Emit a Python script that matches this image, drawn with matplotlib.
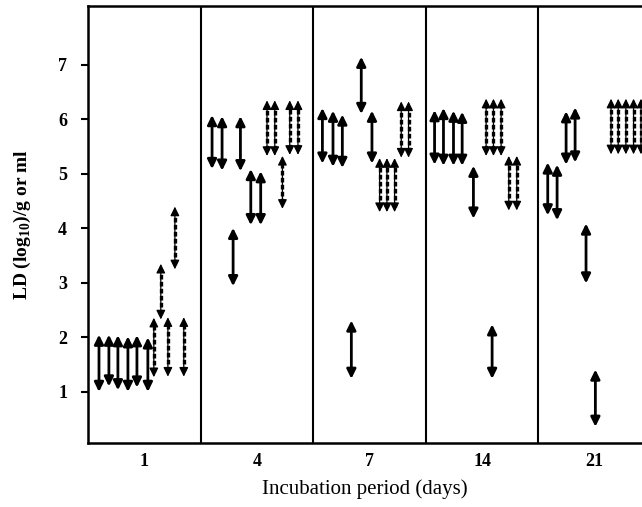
import matplotlib.pyplot as plt

plt.rcParams['font.family'] = ['Liberation Serif', 'DejaVu Serif']
plt.rcParams['mathtext.fontset'] = 'custom'
plt.rcParams['mathtext.rm'] = 'Liberation Serif:bold'

days = ['1', '4', '7', '14', '21']

# range of each sample (log10 LD), panel by panel; 's' solid, 'd' dotted
day1_low = [1.00, 1.10, 1.03, 1.00, 1.08, 1.00, 1.27, 2.33, 1.28, 3.25, 1.28]
day1_high = [2.05, 2.05, 2.04, 2.02, 2.04, 2.00, 2.36, 3.35, 2.37, 4.40, 2.37]
day1_kind = ['s', 's', 's', 's', 's', 's', 'd', 'd', 'd', 'd', 'd']

day4_low = [5.09, 5.06, 2.94, 5.05, 4.06, 4.06, 5.33, 5.33, 4.36, 5.35, 5.35]
day4_high = [6.08, 6.06, 4.01, 6.06, 5.09, 5.05, 6.35, 6.35, 5.33, 6.35, 6.35]
day4_kind = ['s', 's', 's', 's', 's', 's', 'd', 'd', 'd', 'd', 'd']

day7_low = [5.19, 5.13, 5.11, 1.24, 6.10, 5.19, 4.30, 4.30, 4.30, 5.30, 5.30]
day7_high = [6.21, 6.16, 6.09, 2.31, 7.15, 6.16, 5.29, 5.29, 5.29, 6.33, 6.33]
day7_kind = ['s', 's', 's', 's', 's', 's', 'd', 'd', 'd', 'd', 'd']

day14_low = [5.17, 5.15, 5.15, 5.15, 4.18, 5.33, 1.24, 5.33, 5.33, 4.33, 4.33]
day14_high = [6.17, 6.21, 6.16, 6.14, 5.15, 6.38, 2.24, 6.38, 6.38, 5.33, 5.33]
day14_kind = ['s', 's', 's', 's', 's', 'd', 's', 'd', 'd', 'd', 'd']

day21_low = [4.24, 4.15, 5.17, 5.21, 2.99, 0.36, 5.36, 5.36, 5.36, 5.36, 5.36]
day21_high = [5.21, 5.17, 6.15, 6.22, 4.09, 1.41, 6.38, 6.38, 6.38, 6.38, 6.38]
day21_kind = ['s', 's', 's', 's', 's', 's', 'd', 'd', 'd', 'd', 'd']

# horizontal place of each arrow inside its panel (fraction of panel width)
day1_pos = [0.098, 0.186, 0.266, 0.355, 0.435, 0.532, 0.585, 0.647, 0.710, 0.772, 0.851]
day4_pos = [0.102, 0.191, 0.289, 0.354, 0.446, 0.534, 0.590, 0.659, 0.727, 0.792, 0.865]
day7_pos = [0.082, 0.176, 0.259, 0.339, 0.427, 0.522, 0.590, 0.655, 0.723, 0.782, 0.847]
day14_pos = [0.078, 0.157, 0.246, 0.323, 0.423, 0.536, 0.589, 0.601, 0.669, 0.737, 0.808]
day21_pos = [0.083, 0.166, 0.246, 0.326, 0.423, 0.506, 0.645, 0.709, 0.777, 0.845, 0.911]

panels = [
    (day1_pos, day1_low, day1_high, day1_kind),
    (day4_pos, day4_low, day4_high, day4_kind),
    (day7_pos, day7_low, day7_high, day7_kind),
    (day14_pos, day14_low, day14_high, day14_kind),
    (day21_pos, day21_low, day21_high, day21_kind),
]


def draw_range(ax, x, lo, hi, kind):
    style = '<|-|>,head_length=0.55,head_width=0.27'
    if kind == 's':
        ax.annotate('', xy=(x, hi), xytext=(x, lo),
                    arrowprops=dict(arrowstyle=style, mutation_scale=10,
                                    lw=2.0, color='black',
                                    shrinkA=0, shrinkB=0))
    else:
        ax.annotate('', xy=(x, hi), xytext=(x, lo),
                    arrowprops=dict(arrowstyle=style, mutation_scale=10,
                                    lw=0.9, color='black',
                                    shrinkA=0, shrinkB=0))
        ax.plot([x, x], [lo + 0.1, hi - 0.1], color='black', lw=2.4,
                ls=(0, (1.4, 0.7)), solid_capstyle='butt')


fig = plt.figure(figsize=(6.42, 5.07), dpi=100)
ax = fig.add_axes([0.137, 0.126, 0.863, 0.862])

for i, (pos, low, high, kind) in enumerate(panels):
    for p, lo, hi, k in zip(pos, low, high, kind):
        draw_range(ax, i + p, lo, hi, k)

for i in range(1, len(days)):
    ax.axvline(i, color='black', lw=1.5)

ax.set_xlim(0, 4.92)
ax.set_ylim(0.06, 8.08)
ax.set_xticks([i + 0.5 for i in range(len(days))])
ax.set_xticklabels(days, fontweight='bold', fontsize=13)
ax.set_yticks(range(1, 8))
ax.set_yticklabels([str(v) for v in range(1, 8)], fontweight='bold',
                   fontsize=13)
ax.tick_params(axis='x', length=0, pad=7)
ax.tick_params(axis='y', length=5, width=1.5, direction='out', pad=10)

for side in ['left', 'bottom', 'top']:
    ax.spines[side].set_linewidth(1.8)
ax.spines['right'].set_visible(False)

ax.set_xlabel('Incubation period (days)', fontsize=15, labelpad=7)
ax.set_ylabel(r'LD (log$_{10}$)/g or ml', fontsize=14, fontweight='bold',
              labelpad=18)

fig.savefig('out.png', dpi=100)
